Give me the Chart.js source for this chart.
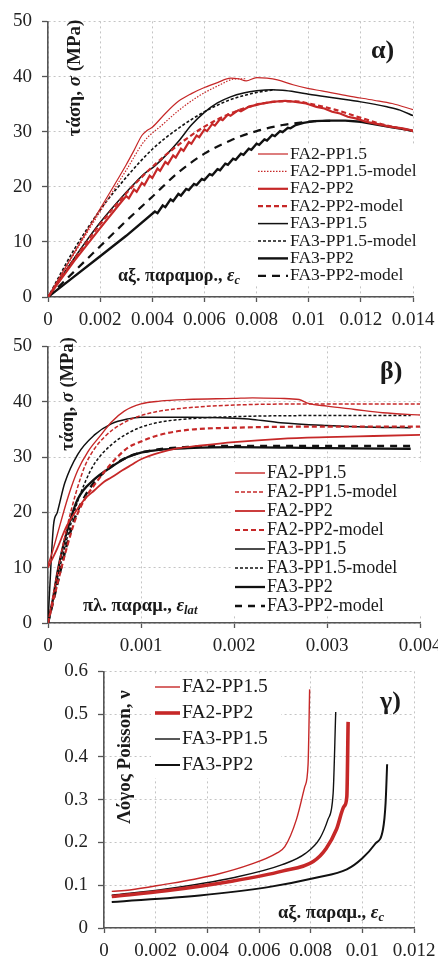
<!DOCTYPE html>
<html>
<head>
<meta charset="utf-8">
<script src="https://cdn.jsdelivr.net/npm/chart.js@4.4.1/dist/chart.umd.min.js"></script>
<style>
  html, body { margin: 0; padding: 0; background: #fff; width: 438px; height: 965px; overflow: hidden; }
  .panel { position: absolute; left: 0; }
  canvas { display: block; }
</style>
</head>
<body>
<div class="panel" style="top:0px"><canvas id="chartA" width="460" height="335"></canvas></div>
<div class="panel" style="top:325px"><canvas id="chartB" width="460" height="335"></canvas></div>
<div class="panel" style="top:650px"><canvas id="chartC" width="460" height="315"></canvas></div>
<script>
const SERIF = "'Liberation Serif', 'DejaVu Serif', serif";
const RED = "#c62828";
const BLACK = "#111111";

/* ================= TICKS ================= */
const strainTicksA = [0, 0.002, 0.004, 0.006, 0.008, 0.01, 0.012, 0.014];
const strainLabelsA = ["0", "0.002", "0.004", "0.006", "0.008", "0.01", "0.012", "0.014"];
const strainTicksB = [0, 0.001, 0.002, 0.003, 0.004];
const strainLabelsB = ["0", "0.001", "0.002", "0.003", "0.004"];
const strainTicksC = [0, 0.002, 0.004, 0.006, 0.008, 0.01, 0.012];
const strainLabelsC = ["0", "0.002", "0.004", "0.006", "0.008", "0.01", "0.012"];
const stressTicks = [0, 10, 20, 30, 40, 50];
const stressLabels = ["0", "10", "20", "30", "40", "50"];
const poissonTicks = [0, 0.1, 0.2, 0.3, 0.4, 0.5, 0.6];
const poissonLabels = ["0", "0.1", "0.2", "0.3", "0.4", "0.5", "0.6"];

/* ================= α) stress vs axial strain ================= */
const axialFA2PP15 = [[0,0],[0.001,8.0],[0.002,16.0],[0.003,24.0],[0.0033,26.6],[0.0036,29.3],[0.0038,30.2],[0.004,30.8],[0.0045,33.3],[0.005,35.5],[0.0055,36.9],[0.006,38.0],[0.0065,38.9],[0.007,39.7],[0.0073,39.6],[0.0076,39.2],[0.008,39.8],[0.0084,39.7],[0.0088,39.4],[0.0094,38.5],[0.01,37.8],[0.0105,37.4],[0.0115,36.5],[0.0125,35.7],[0.0132,35.1],[0.014,34.0]];
const axialFA2PP15Model = [[0,0],[0.001,7.8],[0.002,15.5],[0.003,23.0],[0.0037,28.3],[0.0044,31.3],[0.005,33.8],[0.0058,36.5],[0.0066,38.5],[0.0071,39.5],[0.0076,39.6]];
const axialFA2PP2 = [[0,0],[0.001,6.5],[0.002,12.5],[0.0028,17.2],[0.003,18.3],[0.0031,17.9],[0.0033,19.5],[0.0034,19.1],[0.0036,20.7],[0.0037,20.3],[0.0039,22.0],[0.004,21.6],[0.0042,23.3],[0.0043,22.9],[0.0045,24.5],[0.0046,24.1],[0.0048,25.7],[0.0049,25.3],[0.0051,26.9],[0.0052,26.5],[0.0054,28.1],[0.0055,27.8],[0.0057,29.3],[0.0058,29.0],[0.006,30.4],[0.0061,30.1],[0.0063,31.4],[0.0064,31.1],[0.0066,32.3],[0.0067,32.1],[0.0069,33.1],[0.007,32.9],[0.0073,33.9],[0.0074,33.7],[0.0077,34.5],[0.0081,35.0],[0.0086,35.4],[0.0091,35.6],[0.0095,35.4],[0.0099,35.1],[0.0103,34.5],[0.0106,34.2],[0.0109,33.6],[0.0112,33.3],[0.0115,32.7],[0.0118,32.4],[0.0122,31.8],[0.0126,31.4],[0.0131,30.9],[0.0136,30.6],[0.014,30.2]];
const axialFA2PP2Model = [[0,0],[0.001,6.8],[0.002,13.2],[0.003,18.8],[0.004,23.6],[0.005,27.6],[0.006,30.9],[0.007,33.3],[0.008,34.9],[0.009,35.5],[0.0095,35.5],[0.01,35.1],[0.011,34.0],[0.012,32.5],[0.013,31.1],[0.014,30.1]];
const axialFA3PP15 = [[0,0],[0.001,7.0],[0.002,13.5],[0.003,19.0],[0.0034,21.0],[0.0037,22.4],[0.0041,23.8],[0.0045,25.6],[0.005,28.2],[0.0055,31.2],[0.006,33.5],[0.0065,35.2],[0.007,36.3],[0.0075,37.0],[0.008,37.4],[0.0086,37.6],[0.009,37.5],[0.0095,37.2],[0.01,36.8],[0.011,36.1],[0.012,35.4],[0.013,34.5],[0.0135,33.9],[0.014,32.9]];
const axialFA3PP15Model = [[0,0],[0.001,8.6],[0.002,15.8],[0.003,21.7],[0.004,26.8],[0.005,30.6],[0.006,33.6],[0.007,35.8],[0.008,37.1],[0.0087,37.6]];
const axialFA3PP2 = [[0,0],[0.001,3.7],[0.002,7.4],[0.003,11.1],[0.0041,15.5],[0.0042,15.2],[0.0044,16.6],[0.0045,16.3],[0.0047,17.7],[0.0048,17.4],[0.005,18.7],[0.0051,18.4],[0.0053,19.6],[0.0054,19.4],[0.0056,20.5],[0.0057,20.3],[0.0059,21.4],[0.006,21.2],[0.0062,22.3],[0.0063,22.1],[0.0065,23.2],[0.0066,23.0],[0.0068,24.2],[0.0069,24.0],[0.0071,25.1],[0.0072,24.9],[0.0074,26.0],[0.0075,25.8],[0.0077,26.9],[0.0078,26.7],[0.008,27.8],[0.0081,27.6],[0.0083,28.6],[0.0084,28.4],[0.0086,29.4],[0.0087,29.2],[0.0089,30.1],[0.009,29.9],[0.0092,30.7],[0.0093,30.6],[0.0095,31.2],[0.0098,31.6],[0.0102,31.9],[0.0108,32.0],[0.0114,32.0],[0.012,31.8],[0.0126,31.3],[0.0132,30.8],[0.0137,30.4],[0.014,30.1]];
const axialFA3PP2Model = [[0,0],[0.001,4.6],[0.002,9.2],[0.003,13.8],[0.004,18.2],[0.005,22.6],[0.006,26.0],[0.007,28.4],[0.008,30.1],[0.009,31.2],[0.01,31.8],[0.011,32.0]];

/* ================= β) stress vs lateral strain ================= */
const latFA2PP15 = [[0,10.5],[0.00005,13.0],[0.00011,16.6],[0.00022,23.0],[0.00032,27.6],[0.00043,31.0],[0.00057,34.0],[0.00068,36.3],[0.00082,38.3],[0.001,39.6],[0.0012,40.1],[0.0015,40.4],[0.002,40.6],[0.0022,40.7],[0.0025,40.6],[0.0027,40.4],[0.0028,39.7],[0.003,39.2],[0.0033,38.6],[0.0036,38.0],[0.004,37.6]];
const latFA2PP15Model = [[0,0],[0.0001,9.0],[0.0002,17.0],[0.0003,23.5],[0.0004,28.5],[0.0005,31.5],[0.0006,33.5],[0.0007,35.0],[0.00086,36.6],[0.001,37.5],[0.0012,38.3],[0.0015,38.9],[0.002,39.4],[0.003,39.6],[0.004,39.6]];
const latFA2PP2 = [[0,10.0],[0.0001,13.5],[0.0002,17.5],[0.00032,20.7],[0.0004,22.5],[0.0005,24.0],[0.0006,25.5],[0.00068,26.3],[0.0008,27.6],[0.0009,28.6],[0.001,29.6],[0.0012,30.8],[0.0014,31.6],[0.0016,32.0],[0.002,32.7],[0.0025,33.3],[0.003,33.6],[0.0035,33.8],[0.004,34.0]];
const latFA2PP2Model = [[0,0],[0.0001,7.0],[0.0002,13.5],[0.0003,19.0],[0.0004,22.5],[0.0005,25.0],[0.00068,28.8],[0.00086,31.7],[0.001,32.8],[0.0012,34.0],[0.0015,34.9],[0.002,35.3],[0.003,35.5],[0.004,35.5]];
const latFA3PP15 = [[0,0],[0.00003,10.0],[0.00006,17.8],[0.0001,20.0],[0.00018,25.3],[0.00032,30.5],[0.0005,34.0],[0.00068,36.0],[0.00086,36.9],[0.001,37.2],[0.0015,37.2],[0.002,37.0],[0.0022,36.8],[0.0025,36.2],[0.003,35.7],[0.0035,35.4],[0.0039,35.3]];
const latFA3PP15Model = [[0,0],[0.0001,8.0],[0.0002,15.0],[0.0003,21.0],[0.0004,25.5],[0.0005,28.8],[0.00068,32.2],[0.00086,34.3],[0.001,35.4],[0.0012,36.3],[0.0015,36.9],[0.002,37.3],[0.003,37.5],[0.0039,37.5]];
const latFA3PP2 = [[0,0],[0.00005,4.0],[0.0001,9.0],[0.00015,13.0],[0.00022,17.5],[0.00032,22.4],[0.0005,26.0],[0.00068,28.2],[0.00086,30.0],[0.001,30.8],[0.0012,31.3],[0.0015,31.6],[0.002,31.8],[0.003,31.6],[0.0039,31.5]];
const latFA3PP2Model = [[0,0],[0.0001,7.0],[0.0002,14.0],[0.0003,19.5],[0.0004,23.0],[0.0005,25.5],[0.0007,28.5],[0.0009,30.3],[0.0012,31.4],[0.0015,31.8],[0.002,32.0],[0.0039,32.0]];

/* ================= γ) Poisson ratio vs axial strain ================= */
const nuFA2PP15 = [[0.0003,0.0856],[0.001,0.089],[0.0024,0.1025],[0.0035,0.114],[0.00435,0.125],[0.00564,0.148],[0.00667,0.1745],[0.007,0.19],[0.00745,0.254],[0.00777,0.33],[0.0079,0.383],[0.00796,0.558]];
const nuFA2PP2 = [[0.0003,0.0736],[0.0024,0.087],[0.005,0.11],[0.0069,0.133],[0.0081,0.1556],[0.0086,0.186],[0.009,0.231],[0.0093,0.285],[0.0094,0.307],[0.00945,0.482]];
const nuFA3PP15 = [[0.0003,0.0765],[0.0024,0.0912],[0.005,0.1175],[0.0069,0.148],[0.0078,0.1745],[0.00835,0.209],[0.00867,0.254],[0.00887,0.315],[0.00897,0.505]];
const nuFA3PP2 = [[0.0003,0.0607],[0.0037,0.076],[0.0063,0.095],[0.0082,0.1175],[0.0094,0.137],[0.01,0.163],[0.0105,0.197],[0.0108,0.231],[0.0109,0.292],[0.01096,0.383]];

/* ================= HELPERS ================= */
function series(label, pts, color, width, dash, smooth) {
    return {
        label: label,
        data: pts.map(p => ({ x: p[0], y: p[1] })),
        borderColor: color,
        borderWidth: width,
        borderDash: dash,
        pointRadius: 0,
        fill: false,
        cubicInterpolationMode: smooth ? "monotone" : "default",
        tension: 0
    };
}

function axis(ticks, labels, max, fitSize, isX, tickPad) {
    return {
        type: "linear",
        min: 0,
        max: max,
        afterBuildTicks: s => { s.ticks = ticks.map(v => ({ value: v })); },
        afterFit: s => { if (isX) s.height = fitSize; else s.width = fitSize; },
        ticks: {
            autoSkip: false,
            maxRotation: 0,
            padding: tickPad,
            color: "#222",
            font: { family: SERIF, size: 19 },
            callback: (v, i) => labels[i]
        },
        grid: {
            color: "#c4c4c4",
            lineWidth: 1,
            tickLength: isX ? 5 : 6,
            tickColor: "#555",
            tickWidth: 1.3,
            tickBorderDash: []
        },
        border: { color: "#555", width: 1.6, dash: [2, 3] }
    };
}

// draws a run of bold text pieces; "i" = italic, "sub" = italic subscript
function richWidth(ctx, parts, size) {
    let w = 0;
    parts.forEach(([t, st]) => {
        const fs = st === "sub" ? size * 0.68 : size;
        ctx.font = (st ? "italic " : "") + "bold " + fs + "px " + SERIF;
        w += ctx.measureText(t).width;
    });
    return w;
}

function drawRich(ctx, parts, x, y, size) {
    let cx = x;
    ctx.textBaseline = "middle";
    ctx.textAlign = "left";
    parts.forEach(([t, st]) => {
        const fs = st === "sub" ? size * 0.68 : size;
        ctx.font = (st ? "italic " : "") + "bold " + fs + "px " + SERIF;
        ctx.fillText(t, cx, st === "sub" ? y + size * 0.28 : y);
        cx += ctx.measureText(t).width;
    });
}

const panelText = {
    id: "panelText",
    beforeDatasetsDraw(chart, args, opts) {
        const b = opts.legend.box;
        chart.ctx.save();
        chart.ctx.fillStyle = "#ffffff";
        chart.ctx.fillRect(b[0], b[1], b[2], b[3]);
        chart.ctx.restore();
    },
    afterDraw(chart, args, opts) {
        const ctx = chart.ctx;
        ctx.save();
        ctx.fillStyle = "#1a1a1a";

        // legend rows
        const lg = opts.legend;
        chart.data.datasets.forEach((ds, i) => {
            const y = lg.y + i * lg.step;
            ctx.beginPath();
            ctx.strokeStyle = ds.borderColor;
            ctx.lineWidth = ds.borderWidth;
            ctx.setLineDash(ds.borderDash || []);
            ctx.moveTo(lg.x, y);
            ctx.lineTo(lg.x + lg.len, y);
            ctx.stroke();
            ctx.setLineDash([]);
            ctx.font = lg.size + "px " + SERIF;
            ctx.textBaseline = "middle";
            ctx.textAlign = "left";
            ctx.fillText(ds.label, lg.x + lg.len + 2, y);
        });

        // vertical axis title, inside the plot
        const yt = opts.yTitle;
        const w = richWidth(ctx, yt.parts, yt.size);
        ctx.save();
        ctx.translate(yt.x, yt.y);
        ctx.rotate(-Math.PI / 2);
        drawRich(ctx, yt.parts, -w / 2, 0, yt.size);
        ctx.restore();

        // horizontal axis title
        const xt = opts.xTitle;
        drawRich(ctx, xt.parts, xt.x, xt.y, xt.size);

        // panel tag
        ctx.font = "bold " + opts.tag.size + "px " + SERIF;
        ctx.textBaseline = "middle";
        ctx.textAlign = "left";
        ctx.fillText(opts.tag.text, opts.tag.x, opts.tag.y);
        ctx.restore();
    }
};

function makeChart(id, datasets, scales, padding, text) {
    return new Chart(document.getElementById(id), {
        type: "line",
        data: { datasets: datasets },
        options: {
            responsive: false,
            animation: false,
            parsing: true,
            layout: { padding: padding },
            plugins: { legend: { display: false }, tooltip: { enabled: false }, panelText: text },
            scales: scales
        },
        plugins: [panelText]
    });
}

/* ================= α ================= */
makeChart("chartA", [
    series("FA2-PP1.5", axialFA2PP15, RED, 1.2, [], true),
    series("FA2-PP1.5-model", axialFA2PP15Model, RED, 1.2, [1.5, 1.5], true),
    series("FA2-PP2", axialFA2PP2, RED, 2.2, [], false),
    series("FA2-PP2-model", axialFA2PP2Model, RED, 2.2, [5, 3], true),
    series("FA3-PP1.5", axialFA3PP15, BLACK, 1.5, [], true),
    series("FA3-PP1.5-model", axialFA3PP15Model, BLACK, 1.6, [3, 2], true),
    series("FA3-PP2", axialFA3PP2, BLACK, 2.4, [], false),
    series("FA3-PP2-model", axialFA3PP2Model, BLACK, 2.2, [8, 6], true)
], {
    x: axis(strainTicksA, strainLabelsA, 0.014, 38, true, 7),
    y: axis(stressTicks, stressLabels, 50, 48, false, 10)
}, { top: 16, right: 47, left: 0, bottom: 0 }, {
    legend: { x: 258, y: 154, step: 17.4, len: 30, size: 17.5, box: [254, 144, 176, 141] },
    yTitle: { x: 75, y: 78, size: 19, parts: [["τάση, ", ""], ["σ", "i"], [" (MPa)", ""]] },
    xTitle: { x: 118, y: 276, size: 18, parts: [["αξ. παραμορ., ", ""], ["ε", "i"], ["c", "sub"]] },
    tag: { text: "α)", x: 371, y: 51, size: 26 }
});

/* ================= β ================= */
makeChart("chartB", [
    series("FA2-PP1.5", latFA2PP15, RED, 1.4, [], true),
    series("FA2-PP1.5-model", latFA2PP15Model, RED, 1.5, [4, 2], true),
    series("FA2-PP2", latFA2PP2, RED, 1.8, [], true),
    series("FA2-PP2-model", latFA2PP2Model, RED, 2.2, [5, 3], true),
    series("FA3-PP1.5", latFA3PP15, BLACK, 1.5, [], true),
    series("FA3-PP1.5-model", latFA3PP15Model, BLACK, 1.5, [3, 2], true),
    series("FA3-PP2", latFA3PP2, BLACK, 2.3, [], true),
    series("FA3-PP2-model", latFA3PP2Model, BLACK, 2.5, [7, 6], true)
], {
    x: axis(strainTicksB, strainLabelsB, 0.004, 37, true, 7),
    y: axis(stressTicks, stressLabels, 50, 48, false, 10)
}, { top: 13, right: 40, left: 0, bottom: 0 }, {
    legend: { x: 235, y: 148, step: 19, len: 30, size: 18, box: [231, 137, 200, 154] },
    yTitle: { x: 68, y: 69, size: 18.5, parts: [["τάση, ", ""], ["σ", "i"], [" (MPa)", ""]] },
    xTitle: { x: 83, y: 281, size: 18.5, parts: [["πλ. παραμ., ", ""], ["ε", "i"], ["lat", "sub"]] },
    tag: { text: "β)", x: 380, y: 47, size: 26 }
});

/* ================= γ ================= */
makeChart("chartC", [
    series("FA2-PP1.5", nuFA2PP15, RED, 1.4, [], true),
    series("FA2-PP2", nuFA2PP2, RED, 3.6, [], true),
    series("FA3-PP1.5", nuFA3PP15, BLACK, 1.4, [], true),
    series("FA3-PP2", nuFA3PP2, BLACK, 2.0, [], true)
], {
    x: axis(strainTicksC, strainLabelsC, 0.012, 37, true, 7),
    y: axis(poissonTicks, poissonLabels, 0.6, 104, false, 10)
}, { top: 15, right: 46, left: 0, bottom: 0 }, {
    legend: { x: 155, y: 37, step: 26, len: 25, size: 19.5, box: [151, 24, 130, 104] },
    yTitle: { x: 125, y: 107, size: 19, parts: [["Λόγος Poisson, ", ""], ["ν", ""]] },
    xTitle: { x: 278, y: 263, size: 18.5, parts: [["αξ. παραμ., ", ""], ["ε", "i"], ["c", "sub"]] },
    tag: { text: "γ)", x: 380, y: 52, size: 26 }
});
</script>
</body>
</html>
